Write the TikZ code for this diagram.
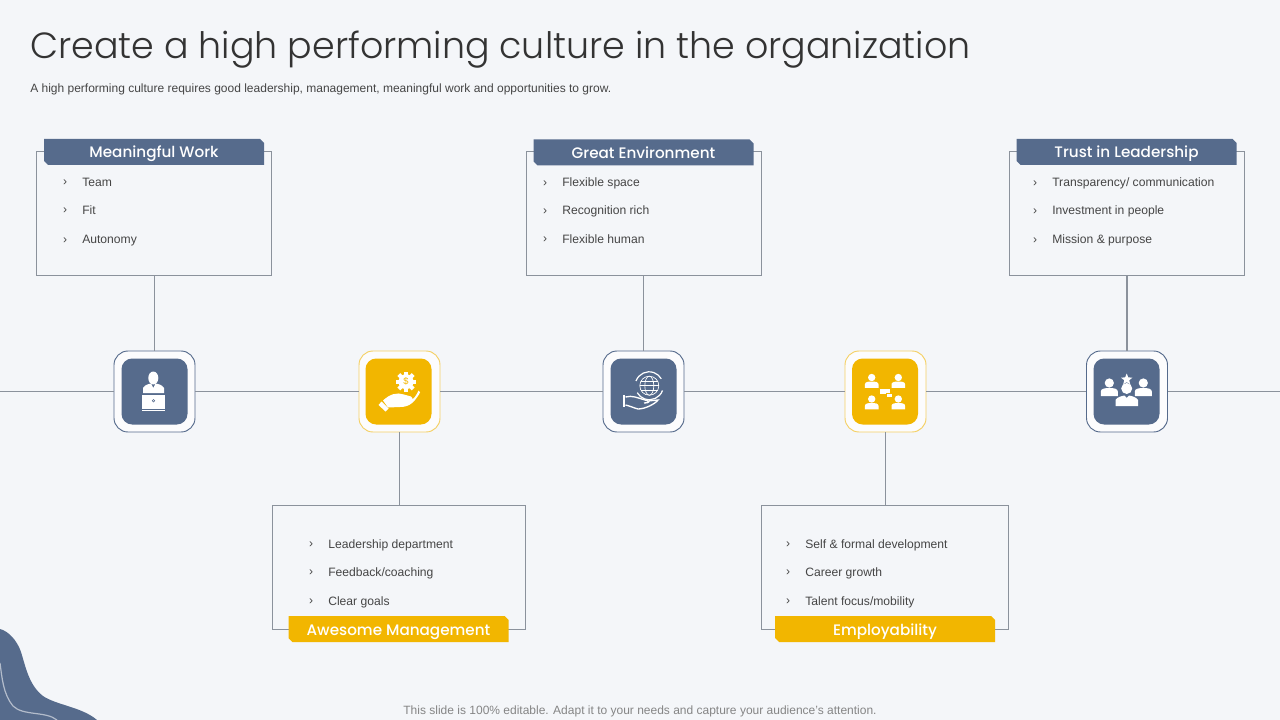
\documentclass[tikz,border=0pt]{standalone}
\usepackage{fontspec}
\usetikzlibrary{shapes.misc,shapes.geometric}
\setmainfont{Liberation Sans}
\newfontfamily\titlefont{Poppins Light}
\newfontfamily\headfont{Poppins Medium}

\definecolor{pagebg}{HTML}{F4F6F9}
\definecolor{slateblue}{HTML}{566B8C}
\definecolor{amber}{HTML}{F2B600}
\definecolor{amberline}{HTML}{F4D064}
\definecolor{lineGrey}{HTML}{8B929C}
\definecolor{bodyGrey}{HTML}{454545}

\tikzset{
    infobox/.style={draw=lineGrey,fill=none,line width=0.75pt,minimum height=93pt,inner sep=0pt},
    header/.style={chamfered rectangle,chamfered rectangle corners={north east,south west},chamfered rectangle xsep=1.5pt,chamfered rectangle ysep=1.5pt,minimum width=165pt,minimum height=19.5pt,inner sep=0pt,text=white,text height=11.6pt,text depth=2.6pt,font=\headfont\fontsize{11.4}{14}\selectfont},
    item/.style={anchor=base west,inner sep=0pt,text=bodyGrey,font=\fontsize{9.1}{11}\selectfont,label={[text=bodyGrey,label distance=11pt,inner sep=0pt,font=\fontsize{9.1}{11}\selectfont]left:›}},
    iconframe/.style={draw=#1,fill=white!70!pagebg,line width=0.7pt,rounded corners=10.5pt,minimum size=60.75pt,inner sep=0pt},
    iconface/.style={fill=#1,rounded corners=8pt,minimum size=49.5pt,inner sep=0pt},
    joinline/.style={lineGrey,line width=0.8pt},
    person/.pic={
        \fill[white] (0,-5) circle [radius=4.6];
        \fill[white] (-8.5,8) -- (-8.5,3.5) .. controls (-8.5,0.5) and (-4,0) .. (0,0) .. controls (4,0) and (8.5,0.5) .. (8.5,3.5) -- (8.5,8) -- cycle;
    }
}

\begin{document}
\begin{tikzpicture}[x=0.75pt,y=-0.75pt]
    \useasboundingbox (0,0) rectangle (1280,720);
    \fill[pagebg] (0,0) rectangle (1280,720);

    % corner blob
    \fill[slateblue] (0,629) .. controls (8,631) and (17,640) .. (21,652) .. controls (26,668) and (29,685) .. (43,696) .. controls (56,705) and (82,707) .. (97,720) -- (0,720) -- cycle;
    \draw[draw=slateblue!45!white,line width=0.9pt] (0,663) .. controls (2,677) and (3,694) .. (13,706) .. controls (23,716) and (46,711) .. (57,720);

    \coordinate (linestart) at (0,391.5);
    \coordinate (lineend) at (1280,391.5);

    \node[anchor=base west,inner sep=0pt,text=black!80,font=\titlefont\fontsize{27.3}{33}\selectfont] (title) at (30,59) {Create a high performing culture in the organization};
    \node[anchor=base west,inner sep=0pt,text=bodyGrey,font=\fontsize{9}{11}\selectfont] (subtitle) at (30,93) {A high performing culture requires good leadership, management, meaningful work and opportunities to grow.};
    \node[anchor=base,inner sep=0pt,text=black!48,font=\fontsize{9}{11}\selectfont] (footer) at (640,714) {This slide is 100\% editable. Adapt it to your needs and capture your audience's attention.};

    \node[infobox,minimum width=176.25pt] (workbox) at (154,213.5) {};
    \node[infobox,minimum width=176.25pt] (envbox) at (644,213.5) {};
    \node[infobox,minimum width=176.25pt] (trustbox) at (1127,213.5) {};
    \node[infobox,minimum width=189.75pt] (mgmtbox) at (399,567.5) {};
    \node[infobox,minimum width=185.25pt] (empbox) at (885,567.5) {};

    \node[header,fill=slateblue] (workhead) at (154,152) {Meaningful Work};
    \node[header,fill=slateblue] (envhead) at (643.5,152.5) {Great Environment};
    \node[header,fill=slateblue] (trusthead) at (1126.5,152) {Trust in Leadership};
    \node[header,fill=amber] (mgmthead) at (398.5,629) {Awesome Management};
    \node[header,fill=amber] (emphead) at (885,629) {Employability};

    \node[iconframe=slateblue] (workicon) at (154.5,391.5) {};
    \node[iconframe=amberline] (mgmticon) at (399.5,391.5) {};
    \node[iconframe=slateblue] (envicon) at (643.5,391.5) {};
    \node[iconframe=amberline] (empicon) at (885.5,391.5) {};
    \node[iconframe=slateblue] (trusticon) at (1127,391.5) {};

    \node[iconface=slateblue] (workface) at (154.5,391.5) {};
    \node[iconface=amber] (mgmtface) at (398.5,391.5) {};
    \node[iconface=slateblue] (envface) at (643.5,391.5) {};
    \node[iconface=amber] (empface) at (885,391.5) {};
    \node[iconface=slateblue] (trustface) at (1126.5,391.5) {};

    \draw[lineGrey,line width=0.9pt] (linestart) -- (workicon) -- (mgmticon) -- (envicon) -- (empicon) -- (trusticon) -- (lineend);
    \draw[joinline] (workicon.north |- workbox.south) -- (workicon.north);
    \draw[joinline] (envicon.north |- envbox.south) -- (envicon.north);
    \draw[joinline] (trusticon.north |- trustbox.south) -- (trusticon.north);
    \draw[joinline] (mgmticon.south) -- (mgmticon.south |- mgmtbox.north);
    \draw[joinline] (empicon.south) -- (empicon.south |- empbox.north);

    \node[item] (work1) at (82,186.7) {Team};
    \node[item] (work2) at (82,214.7) {Fit};
    \node[item] (work3) at (82,243.7) {Autonomy};
    \node[item] (env1) at (562,186.7) {Flexible space};
    \node[item] (env2) at (562,214.7) {Recognition rich};
    \node[item] (env3) at (562,243.7) {Flexible human};
    \node[item] (trust1) at (1052,186.7) {Transparency/ communication};
    \node[item] (trust2) at (1052,214.7) {Investment in people};
    \node[item] (trust3) at (1052,243.7) {Mission \& purpose};
    \node[item] (mgmt1) at (328,548) {Leadership department};
    \node[item] (mgmt2) at (328,576) {Feedback/coaching};
    \node[item] (mgmt3) at (328,605) {Clear goals};
    \node[item] (emp1) at (805,548) {Self \& formal development};
    \node[item] (emp2) at (805,576) {Career growth};
    \node[item] (emp3) at (805,605) {Talent focus/mobility};

    % person at laptop
    \fill[white] (153.3,378) ellipse [x radius=5,y radius=6.5];
    \fill[white] (143,393) -- (143,388) .. controls (145,384.5) and (149,384) .. (151,383.5) -- (153.3,388) -- (155.5,383.5) .. controls (158,384) and (162,384.5) .. (164,388) -- (164,393) -- cycle;
    \fill[white] (142,394.5) rectangle (165,409);
    \fill[white] (142,409.8) rectangle (165,411.2);
    \draw[slateblue,line width=0.4pt] (153.5,400.7) circle [radius=1.2];

    % hand with gear
    \fill[white] (406,381.7) circle [radius=7.5];
    \foreach \ang in {0,45,...,315}
        \fill[white,rotate around={\ang:(406,381.7)}] (404,371.5) rectangle (408,376);
    \node[inner sep=0pt,text=amber,font=\fontsize{7}{8}\selectfont] (gearsign) at (406,381.7) {\$};
    \fill[white] (383,400.5) .. controls (390,394) and (397,392) .. (404,394.5) -- (411,396.5) .. controls (413,397) and (413,399.5) .. (410,399.5) -- (402,399.5) -- (411,399.5) .. controls (414,399) and (416,396) .. (418.5,390.5) .. controls (421,391) and (420,393) .. (419,394.5) .. controls (414,402) and (410,407) .. (400,407) -- (388,407.5) -- cycle;
    \fill[white] (378.5,405) -- (381.5,401.5) -- (388.5,408.5) -- (385.5,411.5) -- cycle;

    % hand with globe
    \draw[white,line width=0.5pt] (649.3,385.7) circle [radius=9.5];
    \draw[white,line width=0.5pt] (649.3,385.7) ellipse [x radius=4.5,y radius=9.5];
    \draw[white,line width=0.5pt] (639.8,385.7) -- (658.8,385.7) (641,381) -- (657.6,381) (641,390.4) -- (657.6,390.4);
    \draw[white,line width=0.9pt] (636,381) arc [start angle=200,end angle=330,radius=14];
    \draw[white,line width=0.9pt] (662.5,390.5) arc [start angle=20,end angle=150,radius=14];
    \fill[white] (623,395) rectangle (625.3,407);
    \draw[white,line width=1pt] (625.5,397) .. controls (632,395) and (638,398) .. (645,400) .. controls (650,401) and (650,403) .. (644,403) (648,401) -- (658,400) .. controls (655,404) and (645,409) .. (638,409) .. controls (634,408) and (630,406) .. (625.5,405);

    % people with chat
    \pic[scale=0.8] at (871.7,381.5) {person};
    \pic[scale=0.8] at (898.3,381.5) {person};
    \pic[scale=0.8] at (871.7,403) {person};
    \pic[scale=0.8] at (898.3,403) {person};
    \fill[white] (880,389) rectangle (890,394);
    \filldraw[white,draw=amber,line width=0.3pt] (886.5,392.7) rectangle (892.5,396.7);

    % team with star
    \pic at (1109.3,388) {person};
    \pic at (1143.3,388) {person};
    \node[star,star points=5,star point ratio=2.3,fill=white,inner sep=0pt,minimum size=9pt] (badge) at (1126.7,379.5) {};
    \fill[slateblue] (1126.7,393.5) circle [radius=7];
    \fill[slateblue] (1113,407) -- (1113,400) -- (1141,400) -- (1141,407) -- cycle;
    \fill[white] (1126.7,388.5) circle [radius=5.5];
    \fill[white] (1115.5,406) -- (1115.5,400) .. controls (1117,397) and (1122,396) .. (1124.5,395.5) -- (1126.7,398) -- (1129,395.5) .. controls (1132,396) and (1136,397) .. (1138,400) -- (1138,406) -- cycle;
\end{tikzpicture}
\end{document}
